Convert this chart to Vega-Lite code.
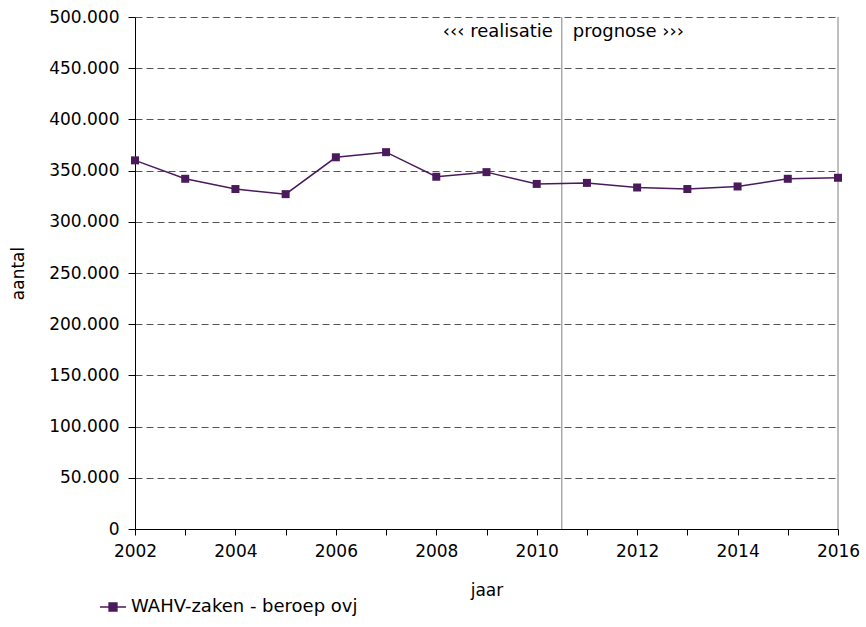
{
  "$schema": "https://vega.github.io/schema/vega-lite/v6.json",
  "width": 703,
  "height": 512,
  "autosize": {"type": "none"},
  "padding": {"left": 135, "top": 17, "right": 28, "bottom": 98},
  "background": "white",
  "config": {
    "view": {"stroke": null},
    "font": "DejaVu Sans",
    "axis": {"labelFont": "DejaVu Sans", "titleFont": "DejaVu Sans", "labelFontSize": 17, "titleFontSize": 17, "titleFontWeight": "normal", "labelColor": "#000000", "titleColor": "#000000", "labelOverlap": false},
    "legend": {"labelFont": "DejaVu Sans", "labelFontSize": 18, "labelColor": "#000000", "labelLimit": 400}
  },
  "datasets": {
    "series": [
      {"jaar": 2002, "aantal": 360000, "reeks": "WAHV-zaken - beroep ovj"},
      {"jaar": 2003, "aantal": 342000, "reeks": "WAHV-zaken - beroep ovj"},
      {"jaar": 2004, "aantal": 332000, "reeks": "WAHV-zaken - beroep ovj"},
      {"jaar": 2005, "aantal": 327000, "reeks": "WAHV-zaken - beroep ovj"},
      {"jaar": 2006, "aantal": 363000, "reeks": "WAHV-zaken - beroep ovj"},
      {"jaar": 2007, "aantal": 368000, "reeks": "WAHV-zaken - beroep ovj"},
      {"jaar": 2008, "aantal": 344000, "reeks": "WAHV-zaken - beroep ovj"},
      {"jaar": 2009, "aantal": 348500, "reeks": "WAHV-zaken - beroep ovj"},
      {"jaar": 2010, "aantal": 337000, "reeks": "WAHV-zaken - beroep ovj"},
      {"jaar": 2011, "aantal": 338000, "reeks": "WAHV-zaken - beroep ovj"},
      {"jaar": 2012, "aantal": 333500, "reeks": "WAHV-zaken - beroep ovj"},
      {"jaar": 2013, "aantal": 332000, "reeks": "WAHV-zaken - beroep ovj"},
      {"jaar": 2014, "aantal": 334500, "reeks": "WAHV-zaken - beroep ovj"},
      {"jaar": 2015, "aantal": 342000, "reeks": "WAHV-zaken - beroep ovj"},
      {"jaar": 2016, "aantal": 343000, "reeks": "WAHV-zaken - beroep ovj"}
    ],
    "labels": [
      {"jaar": 2010.5, "aantal": 500000, "tekst": "‹‹‹ realisatie", "kant": "links"},
      {"jaar": 2010.5, "aantal": 500000, "tekst": "prognose ›››", "kant": "rechts"}
    ]
  },
  "layer": [
    {
      "data": {"values": [{"jaar": 2016}]},
      "mark": {"type": "rule", "color": "#808080", "strokeWidth": 1},
      "encoding": {
        "x": {"field": "jaar", "type": "quantitative", "scale": {"domain": [2002, 2016]}},
        "y": {"datum": 0, "type": "quantitative"},
        "y2": {"datum": 500000}
      }
    },
    {
      "data": {"values": [{"jaar": 2010.5}]},
      "mark": {"type": "rule", "color": "#808080", "strokeWidth": 1},
      "encoding": {
        "x": {"field": "jaar", "type": "quantitative"},
        "y": {"datum": 0, "type": "quantitative"},
        "y2": {"datum": 500000}
      }
    },
    {
      "data": {"name": "series"},
      "mark": {"type": "line", "strokeWidth": 1.5, "point": {"shape": "square", "size": 64, "filled": true, "opacity": 1}},
      "encoding": {
        "x": {
          "field": "jaar", "type": "quantitative",
          "scale": {"domain": [2002, 2016], "nice": false, "zero": false},
          "axis": {
            "title": "jaar", "values": [2002,2003,2004,2005,2006,2007,2008,2009,2010,2011,2012,2013,2014,2015,2016],
            "labelExpr": "datum.value % 2 == 0 ? '' + datum.value : ''",
            "grid": false, "domainColor": "#000000", "tickColor": "#000000", "tickSize": 6,
            "labelPadding": 8, "titlePadding": 23, "labelFlush": false
          }
        },
        "y": {
          "field": "aantal", "type": "quantitative",
          "scale": {"domain": [0, 500000], "nice": false},
          "axis": {
            "title": "aantal", "values": [0,50000,100000,150000,200000,250000,300000,350000,400000,450000,500000],
            "labelExpr": "replace(format(datum.value, ','), ',', '.')",
            "grid": true, "gridColor": "#555555", "gridDash": [7, 4], "gridWidth": 1,
            "domainColor": "#000000", "tickColor": "#000000", "tickSize": 7,
            "labelPadding": 9, "titlePadding": 21
          }
        },
        "color": {
          "field": "reeks", "type": "nominal",
          "scale": {"range": ["#4a1a5c"]},
          "legend": {
            "title": null, "orient": "none", "legendX": -36, "legendY": 576,
            "symbolType": "M-1,0H1M-0.3,-0.3H0.3V0.3H-0.3Z",
            "symbolSize": 680, "symbolStrokeWidth": 1.5, "labelOffset": 4
          }
        }
      }
    },
    {
      "data": {"name": "labels"},
      "transform": [{"filter": "datum.kant == 'links'"}],
      "mark": {"type": "text", "align": "right", "baseline": "top", "dx": -9, "dy": 6, "fontSize": 18, "font": "DejaVu Sans", "color": "#000000"},
      "encoding": {
        "x": {"field": "jaar", "type": "quantitative"},
        "y": {"field": "aantal", "type": "quantitative"},
        "text": {"field": "tekst"}
      }
    },
    {
      "data": {"name": "labels"},
      "transform": [{"filter": "datum.kant == 'rechts'"}],
      "mark": {"type": "text", "align": "left", "baseline": "top", "dx": 11, "dy": 6, "fontSize": 18, "font": "DejaVu Sans", "color": "#000000"},
      "encoding": {
        "x": {"field": "jaar", "type": "quantitative"},
        "y": {"field": "aantal", "type": "quantitative"},
        "text": {"field": "tekst"}
      }
    }
  ]
}
